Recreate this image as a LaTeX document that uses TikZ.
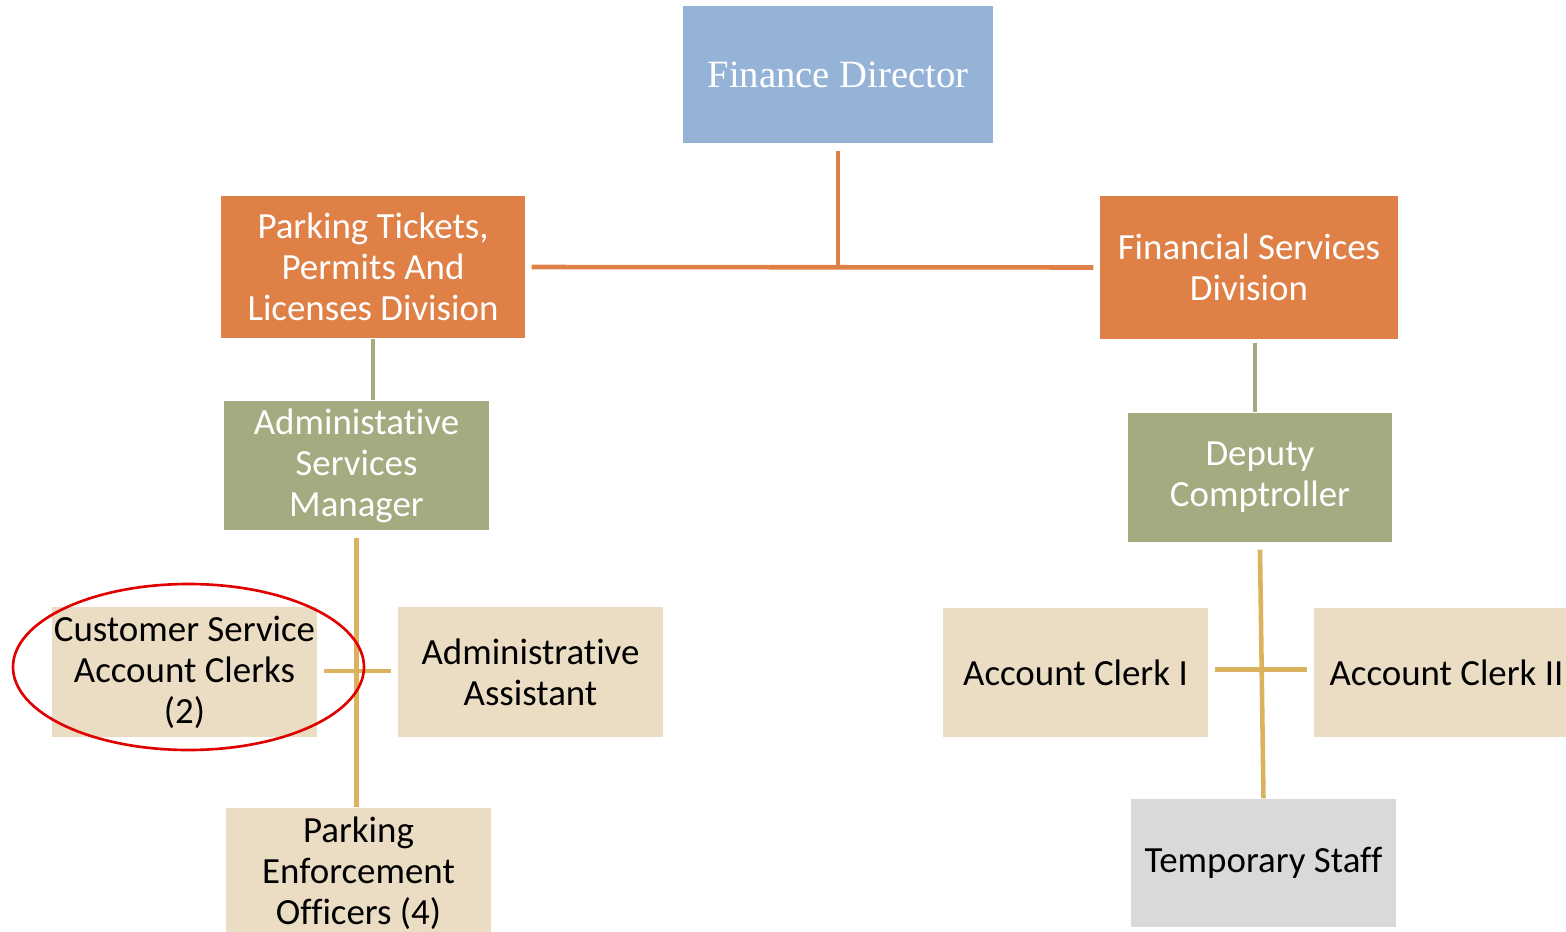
\documentclass[tikz,border=0pt]{standalone}
\usepackage{fontspec}
\setmainfont{Carlito}[Ligatures=NoCommon]
\newfontfamily\headfont{Liberation Serif}
\usepackage{tikz}
\definecolor{dirblue}{HTML}{95B3D7}
\definecolor{divorange}{HTML}{DF8047}
\definecolor{mgrgreen}{HTML}{A5AB80}
\definecolor{stafftan}{HTML}{EBDDC3}
\definecolor{tempgray}{HTML}{D9D9D9}
\definecolor{linkgold}{HTML}{DBB35E}
\definecolor{markred}{HTML}{E00000}
\tikzset{
  unit/.style={rectangle,inner sep=0pt,align=center,minimum width=2.65cm,minimum height=1.3cm,
    font=\fontsize{10.5pt}{11.7pt}\selectfont},
  division/.style={unit,fill=divorange,text=white},
  manager/.style={unit,fill=mgrgreen,text=white},
  staff/.style={unit,fill=stafftan,text=black},
  link/.style={line width=1.3pt},
}

\begin{document}
\begin{tikzpicture}
\useasboundingbox (0,0) rectangle (15.66,-9.32);
\clip (0,0) rectangle (15.66,-9.32);
\node[unit,fill=dirblue,text=white,minimum width=3.1cm,minimum height=1.37cm,font=\headfont\fontsize{11pt}{13pt}\selectfont] (fin) at (8.38,-.745) {Finance Director};
\node[division,minimum width=3.04cm,minimum height=1.42cm] (ptp) at (3.73,-2.67) {Parking Tickets,\\Permits And\\Licenses Division};
\node[division,minimum width=2.98cm,minimum height=1.43cm] (fsd) at (12.49,-2.675) {Financial Services\\Division};
\node[manager,minimum height=1.29cm] (asm) at (3.565,-4.655) {Administative\\Services\\Manager};
\node[manager,minimum width=2.64cm,minimum height=1.29cm] (dc) at (12.6,-4.775) {Deputy\\Comptroller};
\node[staff] (csa) at (1.845,-6.72) {Customer Service\\Account Clerks\\(2)};
\node[staff] (aa) at (5.305,-6.72) {Administrative\\Assistant};
\node[staff] (peo) at (3.585,-8.73) {Parking\\Enforcement\\Officers (4)};
\node[staff,minimum height=1.29cm] (ac1) at (10.755,-6.725) {Account Clerk I};
\node[staff,minimum height=1.29cm] (ac2) at (14.465,-6.725) {Account Clerk II};
\node[unit,fill=tempgray,minimum height=1.28cm] (tmp) at (12.635,-8.63) {Temporary Staff};

\draw[link,divorange] ([yshift=-.07cm]fin.south) -- (fin.south |- ptp.east);
\draw[link,divorange] ([xshift=.06cm]ptp.east) -- ([xshift=-.06cm]fsd.west);
\draw[link,mgrgreen] (ptp.south) -- (ptp.south |- asm.north);
\draw[link,mgrgreen] ([xshift=.06cm,yshift=-.03cm]fsd.south) -- ([xshift=.06cm]fsd.south |- dc.north);
\draw[link,linkgold] ([yshift=-.07cm]asm.south) -- (asm.south |- peo.north);
\draw[link,linkgold] ([xshift=.06cm,yshift=.01cm]csa.east) -- ([xshift=-.06cm,yshift=.01cm]aa.west);
\draw[link,linkgold] ([yshift=-.07cm]dc.south) -- (tmp.north);
\draw[link,linkgold] ([xshift=.06cm,yshift=.03cm]ac1.east) -- ([xshift=-.06cm,yshift=.03cm]ac2.west);

\draw[markred,line width=.75pt] ([xshift=.04cm,yshift=.05cm]csa.center) ellipse [x radius=1.755,y radius=.83];
\end{tikzpicture}
\end{document}
